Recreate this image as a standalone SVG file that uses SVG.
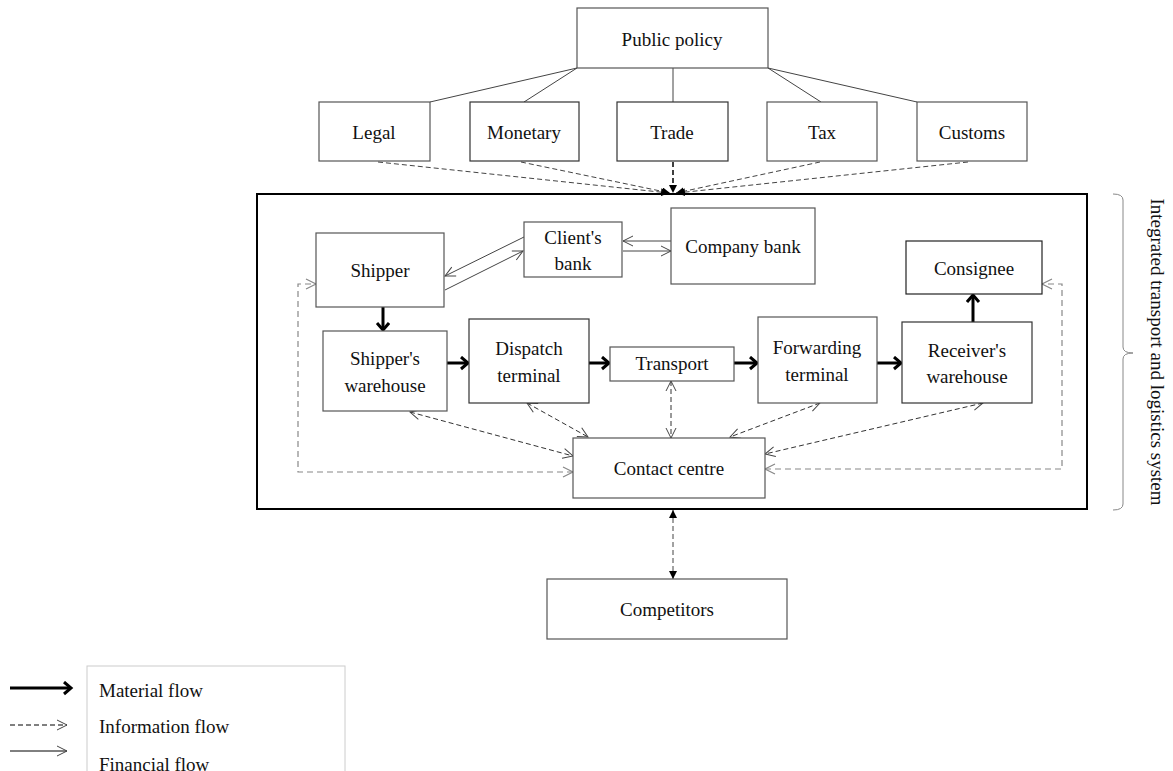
<svg xmlns="http://www.w3.org/2000/svg" width="1173" height="771" viewBox="0 0 1173 771">
<defs>
<style>
.box{fill:#fff;stroke:#555;stroke-width:1.2}
.t{font-family:"Liberation Serif","Times New Roman",serif;font-size:19px;fill:#111;text-anchor:middle}
.tl{font-family:"Liberation Serif","Times New Roman",serif;font-size:19px;fill:#111}
.mat{stroke:#000;stroke-width:3;fill:none}
.fin{stroke:#444;stroke-width:1;fill:none}
.info{stroke:#333;stroke-width:1;fill:none;stroke-dasharray:5,3}
.infol{stroke:#888;stroke-width:1.2;fill:none;stroke-dasharray:6,4}
.pol{stroke:#444;stroke-width:1;fill:none}
.poli{stroke:#444;stroke-width:1;fill:none;stroke-dasharray:5,3}
</style>
<marker id="mThick" markerUnits="userSpaceOnUse" markerWidth="14" markerHeight="16" refX="9" refY="7" orient="auto">
<path d="M2,1 L9,7 L2,13" fill="none" stroke="#000" stroke-width="3"/>
</marker>
<marker id="mOpen" markerUnits="userSpaceOnUse" markerWidth="14" markerHeight="14" refX="11" refY="6" orient="auto-start-reverse">
<path d="M1,1 L11,6 L1,11" fill="none" stroke="#444" stroke-width="1"/>
</marker>
<marker id="mOpenL" markerUnits="userSpaceOnUse" markerWidth="14" markerHeight="14" refX="11" refY="6" orient="auto-start-reverse">
<path d="M1,1 L11,6 L1,11" fill="none" stroke="#888" stroke-width="1.2"/>
</marker>
<marker id="mFill" markerUnits="userSpaceOnUse" markerWidth="10" markerHeight="10" refX="8" refY="4" orient="auto-start-reverse">
<path d="M0,0 L8,4 L0,8 z" fill="#000"/>
</marker>
</defs>
<rect width="1173" height="771" fill="#fff"/>

<g id="connectors">
<path class="pol" d="M577,68 L430,102"/>
<path class="pol" d="M577,68 L524,102"/>
<path class="pol" d="M673,68 L673,102"/>
<path class="pol" d="M768,68 L821,102"/>
<path class="pol" d="M768,68 L917,102"/>
<path class="poli" marker-end="url(#mFill)" d="M378,162 L669,193"/>
<path class="poli" marker-end="url(#mFill)" d="M521,162 L670,193"/>
<path class="poli" style="stroke:#000;stroke-width:1.5" marker-end="url(#mFill)" d="M673,162 L673,193"/>
<path class="poli" marker-end="url(#mFill)" d="M820,162 L676,193"/>
<path class="poli" marker-end="url(#mFill)" d="M968,162 L677,193"/>

<path class="mat" marker-end="url(#mThick)" d="M383,307 V330"/>
<path class="mat" marker-end="url(#mThick)" d="M447,363 H468"/>
<path class="mat" marker-end="url(#mThick)" d="M589,363 H609"/>
<path class="mat" marker-end="url(#mThick)" d="M734,363 H757"/>
<path class="mat" marker-end="url(#mThick)" d="M877,363 H901"/>
<path class="mat" marker-end="url(#mThick)" d="M973,322 V295"/>

<path class="fin" marker-end="url(#mOpen)" d="M524,237 L445,276"/>
<path class="fin" marker-end="url(#mOpen)" d="M445,290 L523,251"/>
<path class="fin" marker-end="url(#mOpen)" d="M671,241 L623,241"/>
<path class="fin" marker-end="url(#mOpen)" d="M623,251 L671,251"/>

<path class="infol" marker-start="url(#mOpenL)" marker-end="url(#mOpenL)" d="M573,472 H298 V284 H316"/>
<path class="infol" marker-start="url(#mOpenL)" marker-end="url(#mOpenL)" d="M765,469 H1062 V284 H1042"/>
<path class="info" marker-start="url(#mOpen)" marker-end="url(#mOpen)" d="M410,412 L573,456"/>
<path class="info" marker-start="url(#mOpen)" marker-end="url(#mOpen)" d="M527,403 L588,437"/>
<path class="info" marker-start="url(#mOpen)" marker-end="url(#mOpen)" d="M671,381 L671,438"/>
<path class="info" marker-start="url(#mOpen)" marker-end="url(#mOpen)" d="M820,403 L730,437"/>
<path class="info" marker-start="url(#mOpen)" marker-end="url(#mOpen)" d="M983,403 L765,454"/>
<path class="poli" marker-start="url(#mFill)" marker-end="url(#mFill)" d="M673,510 L673,579"/>
</g>

<g id="public-policy"><rect class="box" x="577" y="8" width="191" height="60"/><text class="t" x="672" y="46">Public policy</text></g>
<g id="legal"><rect class="box" x="319" y="102" width="111" height="59"/><text class="t" x="374" y="139">Legal</text></g>
<g id="monetary"><rect class="box" x="470" y="102" width="109" height="59" style="stroke:#333"/><text class="t" x="524" y="139">Monetary</text></g>
<g id="trade"><rect class="box" x="617" y="102" width="111" height="59" style="stroke:#333"/><text class="t" x="672" y="139">Trade</text></g>
<g id="tax"><rect class="box" x="767" y="102" width="110" height="59"/><text class="t" x="822" y="139">Tax</text></g>
<g id="customs"><rect class="box" x="917" y="102" width="110" height="59"/><text class="t" x="972" y="139">Customs</text></g>

<g id="system"><rect x="257" y="194" width="830" height="315" fill="none" stroke="#000" stroke-width="2"/></g>

<g id="shipper"><rect class="box" x="316" y="233" width="128" height="74"/><text class="t" x="380" y="277">Shipper</text></g>
<g id="clients-bank"><rect class="box" x="524" y="222" width="98" height="55"/><text class="t" x="573" y="244">Client's</text><text class="t" x="573" y="270">bank</text></g>
<g id="company-bank"><rect class="box" x="671" y="208" width="144" height="76"/><text class="t" x="743" y="253">Company bank</text></g>
<g id="consignee"><rect class="box" x="906" y="241" width="136" height="53" style="stroke:#222"/><text class="t" x="974" y="275">Consignee</text></g>
<g id="shippers-warehouse"><rect class="box" x="323" y="331" width="124" height="80"/><text class="t" x="385" y="365">Shipper's</text><text class="t" x="385" y="392">warehouse</text></g>
<g id="dispatch-terminal"><rect class="box" x="469" y="319" width="120" height="84" style="stroke:#333"/><text class="t" x="529" y="355">Dispatch</text><text class="t" x="529" y="382">terminal</text></g>
<g id="transport"><rect class="box" x="610" y="347" width="124" height="34"/><text class="t" x="672" y="370">Transport</text></g>
<g id="forwarding-terminal"><rect class="box" x="758" y="317" width="119" height="86"/><text class="t" x="817" y="354">Forwarding</text><text class="t" x="817" y="381">terminal</text></g>
<g id="receivers-warehouse"><rect class="box" x="902" y="322" width="130" height="81" style="stroke:#333"/><text class="t" x="967" y="357">Receiver's</text><text class="t" x="967" y="383">warehouse</text></g>
<g id="contact-centre"><rect class="box" x="573" y="438" width="192" height="60"/><text class="t" x="669" y="475">Contact centre</text></g>
<g id="competitors"><rect class="box" x="547" y="579" width="240" height="60"/><text class="t" x="667" y="616">Competitors</text></g>

<g id="bracket">
<path d="M1113,194 Q1123,194 1123,200 V347 Q1123,353 1133,353 Q1123,353 1123,359 V504 Q1123,510 1113,510" fill="none" stroke="#888" stroke-width="1"/>
<text class="t" transform="translate(1151,352) rotate(90)">Integrated transport and logistics system</text>
</g>

<g id="legend">
<rect x="87" y="666" width="258" height="130" fill="none" stroke="#ccc" stroke-width="1"/>
<path class="mat" marker-end="url(#mThick)" d="M10,688 H71"/>
<path class="info" style="stroke:#000" marker-end="url(#mOpen)" d="M10,725 H67"/>
<path class="fin" style="stroke:#000" marker-end="url(#mOpen)" d="M10,751 H67"/>
<text class="tl" x="99" y="697">Material flow</text>
<text class="tl" x="99" y="733">Information flow</text>
<text class="tl" x="99" y="771">Financial flow</text>
</g>
</svg>
